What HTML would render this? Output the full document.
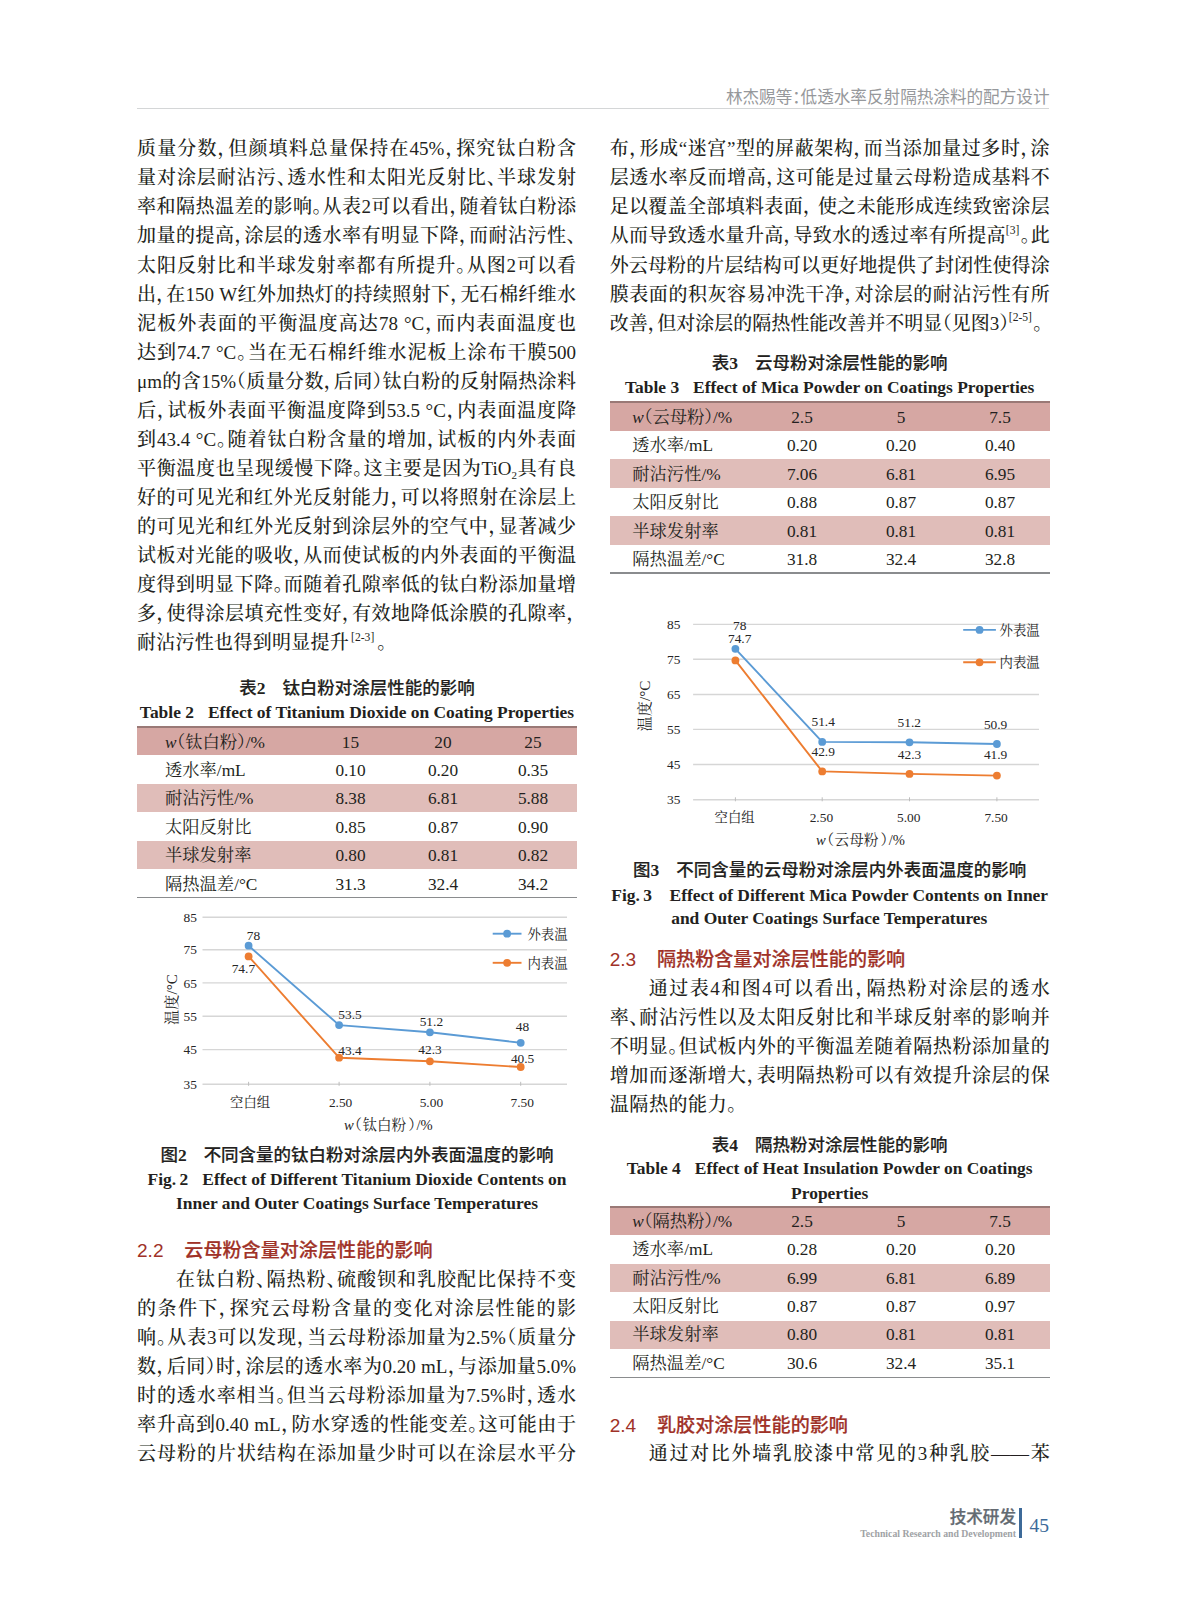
<!DOCTYPE html>
<html lang="zh-CN"><head><meta charset="utf-8"><title>p45</title><style>
html,body{margin:0;padding:0;background:#fff}
body{width:1187px;height:1600px;position:relative;overflow:hidden;color:#231f20;
 font-family:"Liberation Serif","Noto Serif CJK SC",serif}
.l{position:absolute;white-space:nowrap;font-weight:500;font-size:19px;line-height:29px;height:29px;text-align:left}
.l.j{text-align:justify;text-align-last:justify;white-space:normal;overflow:visible}
.p,.pl,.hp{font-feature-settings:"halt" 1}
sup{font-size:11.6px;line-height:0;vertical-align:baseline;position:relative;top:-8.6px;margin-right:1.2px;letter-spacing:0}
sub{font-size:11px;line-height:0;vertical-align:baseline;position:relative;top:4px}
.sec{position:absolute;white-space:nowrap;font-family:"Liberation Sans","Noto Sans CJK SC",sans-serif;font-weight:500;-webkit-text-stroke:0.2px #a03228;font-size:19.1px;line-height:26px;color:#a03228}
.sec .sn{display:inline-block;width:47.3px;font-weight:400;-webkit-text-stroke:0}
.czh{position:absolute;text-align:center;white-space:nowrap;font-family:"Liberation Serif","Noto Sans CJK SC",sans-serif;font-weight:500;-webkit-text-stroke:0.15px #231f20;font-size:17.5px;line-height:24px}
.czh .cn{margin-right:17px}
.czh b{font-weight:700;-webkit-text-stroke:0}
.cen{position:absolute;text-align:center;white-space:nowrap;font-weight:700;font-size:17.45px;line-height:24px}
.cen .g{display:inline-block;width:14px}
.tb{position:absolute}
.tr{position:absolute;left:0;right:0;font-size:17.3px;white-space:nowrap}
.th{background:#d6a7a3}
.ta{background:#e0bdb9}
.tt{position:absolute;left:0;right:0;top:-1px;height:2px;background:#9a7976}
.tbot{position:absolute;left:0;right:0;bottom:-0.6px;height:1.1px;background:#8a8c8e}
.c1{position:absolute;top:1.5px}
.cv{position:absolute;top:1.5px;width:80px;text-align:center}
.ch{position:absolute}
.ct{font-family:"Liberation Serif","Noto Serif CJK SC",serif;font-size:13.4px;fill:#262626}
.cx{font-family:"Liberation Serif","Noto Serif CJK SC",serif;font-size:14.6px;fill:#262626}
.cy{font-family:"Liberation Serif","Noto Serif CJK SC",serif;font-size:15.2px;fill:#262626}
.hd{position:absolute;right:137.5px;top:85.5px;font-family:"Liberation Sans","Noto Sans CJK SC",sans-serif;font-size:16.6px;line-height:24px;color:#96989b;white-space:nowrap;font-weight:400}
.hl{position:absolute;left:137px;width:912px;top:107.5px;height:1.2px;background:#d4d6d7}
.f1{position:absolute;right:171px;top:1506px;font-family:"Liberation Sans","Noto Sans CJK SC",sans-serif;font-size:16.6px;line-height:24px;color:#636a71;font-weight:500;-webkit-text-stroke:0.25px #636a71;white-space:nowrap}
.f2{position:absolute;right:171px;top:1527px;font-size:9.75px;line-height:14px;color:#a0a2a5;font-weight:700;white-space:nowrap}
.fb{position:absolute;left:1019.3px;top:1508px;width:2.3px;height:29.5px;background:#3d6a99}
.f3{position:absolute;left:1029.5px;top:1511.5px;font-size:19.6px;line-height:28px;color:#3d6a99}
</style></head><body>
<div class="l j" style="left:137px;top:134.3px;width:439px">质量分数<span class="p">，</span>但颜填料总量保持在45%<span class="p">，</span>探究钛白粉含</div>
<div class="l j" style="left:137px;top:163.35px;width:439px">量对涂层耐沾污<span class="p">、</span>透水性和太阳光反射比<span class="p">、</span>半球发射</div>
<div class="l j" style="left:137px;top:192.4px;width:439px">率和隔热温差的影响<span class="p">。</span>从表2可以看出<span class="p">，</span>随着钛白粉添</div>
<div class="l j" style="left:137px;top:221.45px;width:439px">加量的提高<span class="p">，</span>涂层的透水率有明显下降<span class="p">，</span>而耐沾污性<span class="p">、</span></div>
<div class="l j" style="left:137px;top:250.5px;width:439px">太阳反射比和半球发射率都有所提升<span class="p">。</span>从图2可以看</div>
<div class="l j" style="left:137px;top:279.55px;width:439px">出<span class="p">，</span>在150 W红外加热灯的持续照射下<span class="p">，</span>无石棉纤维水</div>
<div class="l j" style="left:137px;top:308.6px;width:439px">泥板外表面的平衡温度高达78 °C<span class="p">，</span>而内表面温度也</div>
<div class="l j" style="left:137px;top:337.65px;width:439px">达到74.7 °C<span class="p">。</span>当在无石棉纤维水泥板上涂布干膜500</div>
<div class="l j" style="left:137px;top:366.7px;width:439px">μm的含15%<span class="pl">（</span>质量分数<span class="p">，</span>后同<span class="p">）</span>钛白粉的反射隔热涂料</div>
<div class="l j" style="left:137px;top:395.75px;width:439px">后<span class="p">，</span>试板外表面平衡温度降到53.5 °C<span class="p">，</span>内表面温度降</div>
<div class="l j" style="left:137px;top:424.8px;width:439px">到43.4 °C<span class="p">。</span>随着钛白粉含量的增加<span class="p">，</span>试板的内外表面</div>
<div class="l j" style="left:137px;top:453.85px;width:439px">平衡温度也呈现缓慢下降<span class="p">。</span>这主要是因为TiO<sub>2</sub>具有良</div>
<div class="l j" style="left:137px;top:482.9px;width:439px">好的可见光和红外光反射能力<span class="p">，</span>可以将照射在涂层上</div>
<div class="l j" style="left:137px;top:511.95px;width:439px">的可见光和红外光反射到涂层外的空气中<span class="p">，</span>显著减少</div>
<div class="l j" style="left:137px;top:541px;width:439px">试板对光能的吸收<span class="p">，</span>从而使试板的内外表面的平衡温</div>
<div class="l j" style="left:137px;top:570.05px;width:439px">度得到明显下降<span class="p">。</span>而随着孔隙率低的钛白粉添加量增</div>
<div class="l j" style="left:137px;top:599.1px;width:439px">多<span class="p">，</span>使得涂层填充性变好<span class="p">，</span>有效地降低涂膜的孔隙率<span class="p">，</span></div>
<div class="l" style="left:137px;top:628.15px;width:439px;letter-spacing:0.28px">耐沾污性也得到明显提升<sup style="margin-left:2px;margin-right:3px">[2-3]</sup><span class="p">。</span></div>
<div class="l j" style="left:176px;top:1265.1px;width:400px">在钛白粉<span class="p">、</span>隔热粉<span class="p">、</span>硫酸钡和乳胶配比保持不变</div>
<div class="l j" style="left:137px;top:1294.15px;width:439px">的条件下<span class="p">，</span>探究云母粉含量的变化对涂层性能的影</div>
<div class="l j" style="left:137px;top:1323.2px;width:439px">响<span class="p">。</span>从表3可以发现<span class="p">，</span>当云母粉添加量为2.5%<span class="pl">（</span>质量分</div>
<div class="l j" style="left:137px;top:1352.25px;width:439px">数<span class="p">，</span>后同<span class="p">）</span>时<span class="p">，</span>涂层的透水率为0.20 mL<span class="p">，</span>与添加量5.0%</div>
<div class="l j" style="left:137px;top:1381.3px;width:439px">时的透水率相当<span class="p">。</span>但当云母粉添加量为7.5%时<span class="p">，</span>透水</div>
<div class="l j" style="left:137px;top:1410.35px;width:439px">率升高到0.40 mL<span class="p">，</span>防水穿透的性能变差<span class="p">。</span>这可能由于</div>
<div class="l j" style="left:137px;top:1439.4px;width:439px">云母粉的片状结构在添加量少时可以在涂层水平分</div>
<div class="l j" style="left:609.7px;top:134.3px;width:440px">布<span class="p">，</span>形成<span class="pl">“</span>迷宫<span class="p">”</span>型的屏蔽架构<span class="p">，</span>而当添加量过多时<span class="p">，</span>涂</div>
<div class="l j" style="left:609.7px;top:163.35px;width:440px">层透水率反而增高<span class="p">，</span>这可能是过量云母粉造成基料不</div>
<div class="l j" style="left:609.7px;top:192.4px;width:440px">足以覆盖全部填料表面<span class="p">，</span> 使之未能形成连续致密涂层</div>
<div class="l j" style="left:609.7px;top:221.45px;width:440px">从而导致透水量升高<span class="p">，</span>导致水的透过率有所提高<sup>[3]</sup><span class="p">。</span>此</div>
<div class="l j" style="left:609.7px;top:250.5px;width:440px">外云母粉的片层结构可以更好地提供了封闭性使得涂</div>
<div class="l j" style="left:609.7px;top:279.55px;width:440px">膜表面的积灰容易冲洗干净<span class="p">，</span>对涂层的耐沾污性有所</div>
<div class="l" style="left:609.7px;top:308.6px;width:440px">改善<span class="p">，</span>但对涂层的隔热性能改善并不明显<span class="pl">（</span>见图3<span class="p">）</span><sup>[2-5]</sup><span class="p">。</span></div>
<div class="l j" style="left:648.7px;top:974.1px;width:401px">通过表4和图4可以看出<span class="p">，</span>隔热粉对涂层的透水</div>
<div class="l j" style="left:609.7px;top:1003.15px;width:440px">率<span class="p">、</span>耐沾污性以及太阳反射比和半球反射率的影响并</div>
<div class="l j" style="left:609.7px;top:1032.2px;width:440px">不明显<span class="p">。</span>但试板内外的平衡温差随着隔热粉添加量的</div>
<div class="l j" style="left:609.7px;top:1061.25px;width:440px">增加而逐渐增大<span class="p">，</span>表明隔热粉可以有效提升涂层的保</div>
<div class="l" style="left:609.7px;top:1090.3px;width:440px;letter-spacing:0.6px">温隔热的能力<span class="p">。</span></div>
<div class="l j" style="left:648.7px;top:1438.9px;width:401px">通过对比外墙乳胶漆中常见的3种乳胶——苯</div>
<div class="sec" style="left:137px;top:1237.7px"><span class="sn">2.2</span>云母粉含量对涂层性能的影响</div>
<div class="sec" style="left:609.7px;top:947px"><span class="sn">2.3</span>隔热粉含量对涂层性能的影响</div>
<div class="sec" style="left:609.7px;top:1412.5px"><span class="sn">2.4</span>乳胶对涂层性能的影响</div>
<div class="czh" style="left:137px;top:676px;width:440px"><span class="cn">表<b>2</b></span>钛白粉对涂层性能的影响</div>
<div class="cen" style="left:137px;top:700.1px;width:440px;">Table 2<span class="g"></span>Effect of Titanium Dioxide on Coating Properties</div>
<div class="czh" style="left:137px;top:1143.1px;width:440px"><span class="cn">图<b>2</b></span>不同含量的钛白粉对涂层内外表面温度的影响</div>
<div class="cen" style="left:137px;top:1166.9px;width:440px;">Fig.&#8201;2<span class="g"></span>Effect of Different Titanium Dioxide Contents on</div>
<div class="cen" style="left:137px;top:1190.5px;width:440px;">Inner and Outer Coatings Surface Temperatures</div>
<div class="czh" style="left:609.7px;top:351px;width:440px"><span class="cn">表<b>3</b></span>云母粉对涂层性能的影响</div>
<div class="cen" style="left:609.7px;top:375.1px;width:440px;">Table 3<span class="g"></span>Effect of Mica Powder on Coatings Properties</div>
<div class="czh" style="left:609.7px;top:858.3px;width:440px"><span class="cn">图<b>3</b></span>不同含量的云母粉对涂层内外表面温度的影响</div>
<div class="cen" style="left:609.7px;top:882.8px;width:440px;">Fig.&#8201;3<span class="g" style="width:17.5px"></span>Effect of Different Mica Powder Contents on Inner</div>
<div class="cen" style="left:609.7px;top:906.3px;width:440px;text-align:left;padding-left:61.5px;box-sizing:border-box">and Outer Coatings Surface Temperatures</div>
<div class="czh" style="left:609.7px;top:1132.5px;width:440px"><span class="cn">表<b>4</b></span>隔热粉对涂层性能的影响</div>
<div class="cen" style="left:609.7px;top:1155.5px;width:440px;">Table 4<span class="g"></span>Effect of Heat Insulation Powder on Coatings</div>
<div class="cen" style="left:609.7px;top:1180.6px;width:440px;">Properties</div>
<div class="tb" style="left:137px;top:727px;width:440px;height:170.7px">
<div class="tr th" style="top:0px;height:28.45px;line-height:28.45px">
<span class="c1" style="left:28px;margin-top:0px"><i>w</i><span class="pl">（</span>钛白粉<span class="p">）</span>/%</span>
<span class="cv" style="left:173.5px;margin-top:0px">15</span>
<span class="cv" style="left:266px;margin-top:0px">20</span>
<span class="cv" style="left:356px;margin-top:0px">25</span>
</div>
<div class="tr" style="top:28.45px;height:28.45px;line-height:28.45px">
<span class="c1" style="left:28px;margin-top:0px">透水率/mL</span>
<span class="cv" style="left:173.5px;margin-top:0px">0.10</span>
<span class="cv" style="left:266px;margin-top:0px">0.20</span>
<span class="cv" style="left:356px;margin-top:0px">0.35</span>
</div>
<div class="tr ta" style="top:56.9px;height:28.45px;line-height:28.45px">
<span class="c1" style="left:28px;margin-top:0px">耐沾污性/%</span>
<span class="cv" style="left:173.5px;margin-top:0px">8.38</span>
<span class="cv" style="left:266px;margin-top:0px">6.81</span>
<span class="cv" style="left:356px;margin-top:0px">5.88</span>
</div>
<div class="tr" style="top:85.35px;height:28.45px;line-height:28.45px">
<span class="c1" style="left:28px;margin-top:0px">太阳反射比</span>
<span class="cv" style="left:173.5px;margin-top:0px">0.85</span>
<span class="cv" style="left:266px;margin-top:0px">0.87</span>
<span class="cv" style="left:356px;margin-top:0px">0.90</span>
</div>
<div class="tr ta" style="top:113.8px;height:28.45px;line-height:28.45px">
<span class="c1" style="left:28px;margin-top:0px">半球发射率</span>
<span class="cv" style="left:173.5px;margin-top:0px">0.80</span>
<span class="cv" style="left:266px;margin-top:0px">0.81</span>
<span class="cv" style="left:356px;margin-top:0px">0.82</span>
</div>
<div class="tr" style="top:142.25px;height:28.45px;line-height:28.45px">
<span class="c1" style="left:28px;margin-top:0px">隔热温差/°C</span>
<span class="cv" style="left:173.5px;margin-top:0px">31.3</span>
<span class="cv" style="left:266px;margin-top:0px">32.4</span>
<span class="cv" style="left:356px;margin-top:0px">34.2</span>
</div>
<div class="tt"></div><div class="tbot"></div></div>
<div class="tb" style="left:610px;top:402.3px;width:440px;height:170.7px">
<div class="tr th" style="top:0px;height:28.45px;line-height:28.45px">
<span class="c1" style="left:22.3px;margin-top:0px"><i>w</i><span class="pl">（</span>云母粉<span class="p">）</span>/%</span>
<span class="cv" style="left:152px;margin-top:0px">2.5</span>
<span class="cv" style="left:251px;margin-top:0px">5</span>
<span class="cv" style="left:350px;margin-top:0px">7.5</span>
</div>
<div class="tr" style="top:28.45px;height:28.45px;line-height:28.45px">
<span class="c1" style="left:22.3px;margin-top:0px">透水率/mL</span>
<span class="cv" style="left:152px;margin-top:0px">0.20</span>
<span class="cv" style="left:251px;margin-top:0px">0.20</span>
<span class="cv" style="left:350px;margin-top:0px">0.40</span>
</div>
<div class="tr ta" style="top:56.9px;height:28.45px;line-height:28.45px">
<span class="c1" style="left:22.3px;margin-top:0px">耐沾污性/%</span>
<span class="cv" style="left:152px;margin-top:0px">7.06</span>
<span class="cv" style="left:251px;margin-top:0px">6.81</span>
<span class="cv" style="left:350px;margin-top:0px">6.95</span>
</div>
<div class="tr" style="top:85.35px;height:28.45px;line-height:28.45px">
<span class="c1" style="left:22.3px;margin-top:0px">太阳反射比</span>
<span class="cv" style="left:152px;margin-top:0px">0.88</span>
<span class="cv" style="left:251px;margin-top:0px">0.87</span>
<span class="cv" style="left:350px;margin-top:0px">0.87</span>
</div>
<div class="tr ta" style="top:113.8px;height:28.45px;line-height:28.45px">
<span class="c1" style="left:22.3px;margin-top:0px">半球发射率</span>
<span class="cv" style="left:152px;margin-top:0px">0.81</span>
<span class="cv" style="left:251px;margin-top:0px">0.81</span>
<span class="cv" style="left:350px;margin-top:0px">0.81</span>
</div>
<div class="tr" style="top:142.25px;height:28.45px;line-height:28.45px">
<span class="c1" style="left:22.3px;margin-top:0px">隔热温差/°C</span>
<span class="cv" style="left:152px;margin-top:0px">31.8</span>
<span class="cv" style="left:251px;margin-top:0px">32.4</span>
<span class="cv" style="left:350px;margin-top:0px">32.8</span>
</div>
<div class="tt"></div><div class="tbot"></div></div>
<div class="tb" style="left:610px;top:1206.8px;width:440px;height:170.7px">
<div class="tr th" style="top:0px;height:28.45px;line-height:28.45px">
<span class="c1" style="left:22.3px;margin-top:-0.7px"><i>w</i><span class="pl">（</span>隔热粉<span class="p">）</span>/%</span>
<span class="cv" style="left:152px;margin-top:-0.7px">2.5</span>
<span class="cv" style="left:251px;margin-top:-0.7px">5</span>
<span class="cv" style="left:350px;margin-top:-0.7px">7.5</span>
</div>
<div class="tr" style="top:28.45px;height:28.45px;line-height:28.45px">
<span class="c1" style="left:22.3px;margin-top:-0.7px">透水率/mL</span>
<span class="cv" style="left:152px;margin-top:-0.7px">0.28</span>
<span class="cv" style="left:251px;margin-top:-0.7px">0.20</span>
<span class="cv" style="left:350px;margin-top:-0.7px">0.20</span>
</div>
<div class="tr ta" style="top:56.9px;height:28.45px;line-height:28.45px">
<span class="c1" style="left:22.3px;margin-top:-0.7px">耐沾污性/%</span>
<span class="cv" style="left:152px;margin-top:-0.7px">6.99</span>
<span class="cv" style="left:251px;margin-top:-0.7px">6.81</span>
<span class="cv" style="left:350px;margin-top:-0.7px">6.89</span>
</div>
<div class="tr" style="top:85.35px;height:28.45px;line-height:28.45px">
<span class="c1" style="left:22.3px;margin-top:-0.7px">太阳反射比</span>
<span class="cv" style="left:152px;margin-top:-0.7px">0.87</span>
<span class="cv" style="left:251px;margin-top:-0.7px">0.87</span>
<span class="cv" style="left:350px;margin-top:-0.7px">0.97</span>
</div>
<div class="tr ta" style="top:113.8px;height:28.45px;line-height:28.45px">
<span class="c1" style="left:22.3px;margin-top:-0.7px">半球发射率</span>
<span class="cv" style="left:152px;margin-top:-0.7px">0.80</span>
<span class="cv" style="left:251px;margin-top:-0.7px">0.81</span>
<span class="cv" style="left:350px;margin-top:-0.7px">0.81</span>
</div>
<div class="tr" style="top:142.25px;height:28.45px;line-height:28.45px">
<span class="c1" style="left:22.3px;margin-top:-0.7px">隔热温差/°C</span>
<span class="cv" style="left:152px;margin-top:-0.7px">30.6</span>
<span class="cv" style="left:251px;margin-top:-0.7px">32.4</span>
<span class="cv" style="left:350px;margin-top:-0.7px">35.1</span>
</div>
<div class="tt"></div><div class="tbot"></div></div>
<svg class="ch" style="left:0;top:0" width="1187" height="1600" viewBox="0 0 1187 1600">
<line x1="202.5" y1="917.3" x2="567" y2="917.3" stroke="#d6d6d6" stroke-width="1.4"/>
<line x1="202.5" y1="949.7" x2="567" y2="949.7" stroke="#d6d6d6" stroke-width="1.4"/>
<line x1="202.5" y1="982.9" x2="567" y2="982.9" stroke="#d6d6d6" stroke-width="1.4"/>
<line x1="202.5" y1="1016.3" x2="567" y2="1016.3" stroke="#d6d6d6" stroke-width="1.4"/>
<line x1="202.5" y1="1049.6" x2="567" y2="1049.6" stroke="#d6d6d6" stroke-width="1.4"/>
<line x1="202.5" y1="1084.3" x2="567" y2="1084.3" stroke="#d6d6d6" stroke-width="1.4"/>
<line x1="248.6" y1="1081.8" x2="248.6" y2="1085.8" stroke="#bdbdbd" stroke-width="1"/>
<line x1="339.1" y1="1081.8" x2="339.1" y2="1085.8" stroke="#bdbdbd" stroke-width="1"/>
<line x1="429.9" y1="1081.8" x2="429.9" y2="1085.8" stroke="#bdbdbd" stroke-width="1"/>
<line x1="520.7" y1="1081.8" x2="520.7" y2="1085.8" stroke="#bdbdbd" stroke-width="1"/>
<text class="ct" x="197" y="921.9" text-anchor="end">85</text>
<text class="ct" x="197" y="954.3" text-anchor="end">75</text>
<text class="ct" x="197" y="987.5" text-anchor="end">65</text>
<text class="ct" x="197" y="1020.9" text-anchor="end">55</text>
<text class="ct" x="197" y="1054.2" text-anchor="end">45</text>
<text class="ct" x="197" y="1088.9" text-anchor="end">35</text>
<polyline fill="none" stroke="#5b9bd5" stroke-width="1.9" stroke-linejoin="round" points="248.6,945.7 339.1,1025.1 429.9,1032.3 520.7,1042.8"/>
<circle cx="248.6" cy="945.7" r="3.9" fill="#5b9bd5"/>
<circle cx="339.1" cy="1025.1" r="3.9" fill="#5b9bd5"/>
<circle cx="429.9" cy="1032.3" r="3.9" fill="#5b9bd5"/>
<circle cx="520.7" cy="1042.8" r="3.9" fill="#5b9bd5"/>
<polyline fill="none" stroke="#ed7d31" stroke-width="1.9" stroke-linejoin="round" points="248.6,956.4 339.1,1057.7 429.9,1061.3 520.7,1067"/>
<circle cx="248.6" cy="956.4" r="3.9" fill="#ed7d31"/>
<circle cx="339.1" cy="1057.7" r="3.9" fill="#ed7d31"/>
<circle cx="429.9" cy="1061.3" r="3.9" fill="#ed7d31"/>
<circle cx="520.7" cy="1067" r="3.9" fill="#ed7d31"/>
<text class="ct" x="253.4" y="940.4" text-anchor="middle">78</text>
<text class="ct" x="243.4" y="973.1" text-anchor="middle">74.7</text>
<text class="ct" x="350" y="1019" text-anchor="middle">53.5</text>
<text class="ct" x="350" y="1055.2" text-anchor="middle">43.4</text>
<text class="ct" x="431.4" y="1025.9" text-anchor="middle">51.2</text>
<text class="ct" x="430" y="1053.7" text-anchor="middle">42.3</text>
<text class="ct" x="522.4" y="1031.2" text-anchor="middle">48</text>
<text class="ct" x="522.6" y="1063.2" text-anchor="middle">40.5</text>
<text class="ct" x="250.1" y="1107" text-anchor="middle">空白组</text>
<text class="ct" x="340.6" y="1107" text-anchor="middle">2.50</text>
<text class="ct" x="431.4" y="1107" text-anchor="middle">5.00</text>
<text class="ct" x="522.2" y="1107" text-anchor="middle">7.50</text>
<text class="cx" x="388.3" y="1130" text-anchor="middle"><tspan font-style="italic">w</tspan><tspan class="hp" dx="1">（</tspan><tspan dx="0.5">钛白粉</tspan><tspan class="hp" dx="2">）</tspan><tspan dx="1">/%</tspan></text>
<text class="cy" transform="translate(176.5,999.5) rotate(-90)" text-anchor="middle">温度/°C</text>
<line x1="492.7" y1="933.7" x2="521.5" y2="933.7" stroke="#5b9bd5" stroke-width="1.9"/>
<circle cx="507.1" cy="933.7" r="3.9" fill="#5b9bd5"/>
<text class="ct" x="527.4" y="938.5">外表温</text>
<line x1="492.7" y1="962.8" x2="521.5" y2="962.8" stroke="#ed7d31" stroke-width="1.9"/>
<circle cx="507.1" cy="962.8" r="3.9" fill="#ed7d31"/>
<text class="ct" x="527.4" y="967.6">内表温</text>
</svg>
<svg class="ch" style="left:0;top:0" width="1187" height="1600" viewBox="0 0 1187 1600">
<line x1="693.1" y1="624.4" x2="1039" y2="624.4" stroke="#d6d6d6" stroke-width="1.4"/>
<line x1="693.1" y1="659.3" x2="1039" y2="659.3" stroke="#d6d6d6" stroke-width="1.4"/>
<line x1="693.1" y1="694.5" x2="1039" y2="694.5" stroke="#d6d6d6" stroke-width="1.4"/>
<line x1="693.1" y1="729.4" x2="1039" y2="729.4" stroke="#d6d6d6" stroke-width="1.4"/>
<line x1="693.1" y1="764.5" x2="1039" y2="764.5" stroke="#d6d6d6" stroke-width="1.4"/>
<line x1="693.1" y1="799.8" x2="1039" y2="799.8" stroke="#d6d6d6" stroke-width="1.4"/>
<line x1="735.4" y1="797.3" x2="735.4" y2="801.3" stroke="#bdbdbd" stroke-width="1"/>
<line x1="822.2" y1="797.3" x2="822.2" y2="801.3" stroke="#bdbdbd" stroke-width="1"/>
<line x1="909.5" y1="797.3" x2="909.5" y2="801.3" stroke="#bdbdbd" stroke-width="1"/>
<line x1="996.9" y1="797.3" x2="996.9" y2="801.3" stroke="#bdbdbd" stroke-width="1"/>
<text class="ct" x="680.5" y="629" text-anchor="end">85</text>
<text class="ct" x="680.5" y="663.9" text-anchor="end">75</text>
<text class="ct" x="680.5" y="699.1" text-anchor="end">65</text>
<text class="ct" x="680.5" y="734" text-anchor="end">55</text>
<text class="ct" x="680.5" y="769.1" text-anchor="end">45</text>
<text class="ct" x="680.5" y="804.4" text-anchor="end">35</text>
<polyline fill="none" stroke="#5b9bd5" stroke-width="1.9" stroke-linejoin="round" points="735.4,648.8 822.2,741.9 909.5,742.3 996.9,744"/>
<circle cx="735.4" cy="648.8" r="3.9" fill="#5b9bd5"/>
<circle cx="822.2" cy="741.9" r="3.9" fill="#5b9bd5"/>
<circle cx="909.5" cy="742.3" r="3.9" fill="#5b9bd5"/>
<circle cx="996.9" cy="744" r="3.9" fill="#5b9bd5"/>
<polyline fill="none" stroke="#ed7d31" stroke-width="1.9" stroke-linejoin="round" points="735.4,660.4 822.2,771.4 909.5,773.9 996.9,775.6"/>
<circle cx="735.4" cy="660.4" r="3.9" fill="#ed7d31"/>
<circle cx="822.2" cy="771.4" r="3.9" fill="#ed7d31"/>
<circle cx="909.5" cy="773.9" r="3.9" fill="#ed7d31"/>
<circle cx="996.9" cy="775.6" r="3.9" fill="#ed7d31"/>
<text class="ct" x="739.7" y="629.6" text-anchor="middle">78</text>
<text class="ct" x="739.7" y="642.9" text-anchor="middle">74.7</text>
<text class="ct" x="823.2" y="726.1" text-anchor="middle">51.4</text>
<text class="ct" x="823.2" y="756.2" text-anchor="middle">42.9</text>
<text class="ct" x="909.3" y="727.2" text-anchor="middle">51.2</text>
<text class="ct" x="909.5" y="759.4" text-anchor="middle">42.3</text>
<text class="ct" x="995.6" y="729.3" text-anchor="middle">50.9</text>
<text class="ct" x="995.6" y="759.4" text-anchor="middle">41.9</text>
<text class="ct" x="734.6" y="822" text-anchor="middle">空白组</text>
<text class="ct" x="821.4" y="822" text-anchor="middle">2.50</text>
<text class="ct" x="908.7" y="822" text-anchor="middle">5.00</text>
<text class="ct" x="996.1" y="822" text-anchor="middle">7.50</text>
<text class="cx" x="860.5" y="844.5" text-anchor="middle"><tspan font-style="italic">w</tspan><tspan class="hp" dx="1">（</tspan><tspan dx="0.5">云母粉</tspan><tspan class="hp" dx="2">）</tspan><tspan dx="1">/%</tspan></text>
<text class="cy" transform="translate(649.5,706) rotate(-90)" text-anchor="middle">温度/°C</text>
<line x1="963.2" y1="629.9" x2="995.9" y2="629.9" stroke="#5b9bd5" stroke-width="1.9"/>
<circle cx="979.55" cy="629.9" r="3.9" fill="#5b9bd5"/>
<text class="ct" x="999.6" y="634.7">外表温</text>
<line x1="963.2" y1="662.3" x2="995.9" y2="662.3" stroke="#ed7d31" stroke-width="1.9"/>
<circle cx="979.55" cy="662.3" r="3.9" fill="#ed7d31"/>
<text class="ct" x="999.6" y="667.1">内表温</text>
</svg>
<div class="hd">林杰赐等<span class="p">：</span>低透水率反射隔热涂料的配方设计</div>
<div class="hl"></div>
<div class="f1">技术研发</div>
<div class="f2">Technical Research and Development</div>
<div class="fb"></div>
<div class="f3">45</div>
</body></html>
